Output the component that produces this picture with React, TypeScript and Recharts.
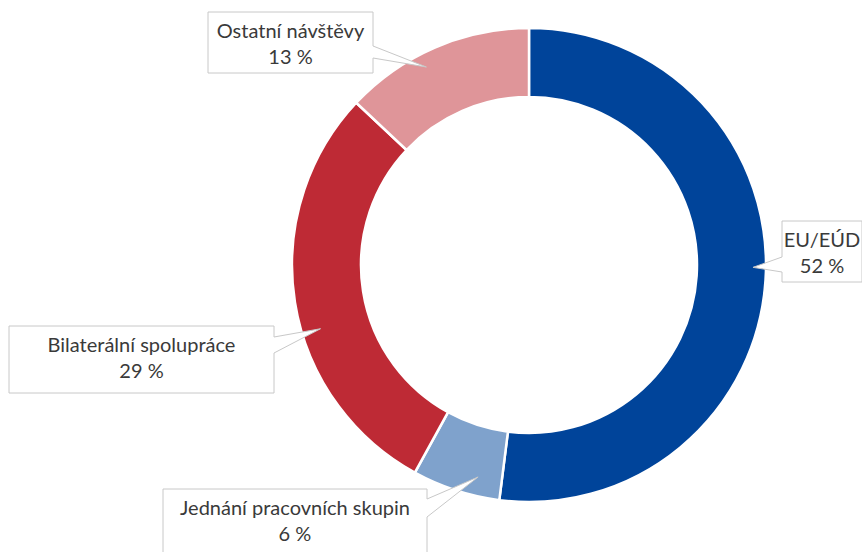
import { PieChart, Pie, Cell } from 'recharts';

const categories = ['EU/EÚD', 'Jednání pracovních skupin', 'Bilaterální spolupráce', 'Ostatní návštěvy'];
const shares = [52, 6, 29, 13];
const colors = ['#00449a', '#7fa2cc', '#be2a35', '#df9599'];

const data = categories.map((name, i) => ({ name, value: shares[i] }));

// callout boxes: box rect, side the pointer leaves from, pointer base and angle tweak of the tip
const callouts = [
  { x: 782, y: 221, w: 80, h: 61, side: 'left', b1: 257, b2: 272, tipR: 224, tipAdj: 3 },
  { x: 163, y: 489, w: 264, h: 72, side: 'right', b1: 499, b2: 517, tipR: 218, tipAdj: 4.5 },
  { x: 9, y: 326, w: 265, h: 67, side: 'right', b1: 337, b2: 353, tipR: 218, tipAdj: 8 },
  { x: 208, y: 12, w: 165, h: 61, side: 'right', b1: 46, b2: 58, tipR: 223, tipAdj: 4 },
];

const RAD = Math.PI / 180;
const FONT = "Lato, 'Open Sans', sans-serif";

function Callout(props: any) {
  const { cx, cy, midAngle, index, name, value } = props;
  const c = callouts[index];
  const a = (midAngle + c.tipAdj) * RAD;
  const tx = cx + c.tipR * Math.cos(a);
  const ty = cy - c.tipR * Math.sin(a);
  const { x, y, w, h } = c;
  let d: string;
  if (c.side === 'right') {
    d = `M${x},${y} L${x + w},${y} L${x + w},${c.b1} L${tx},${ty} L${x + w},${c.b2} L${x + w},${y + h} L${x},${y + h} Z`;
  } else {
    d = `M${x},${y} L${x + w},${y} L${x + w},${y + h} L${x},${y + h} L${x},${c.b2} L${tx},${ty} L${x},${c.b1} Z`;
  }
  const mx = x + w / 2;
  return (
    <g>
      <path d={d} fill="#ffffff" stroke="#c8c8c8" strokeWidth={1} />
      <text x={mx} y={y + 26} textAnchor="middle" fill="#3a3a3a" fontSize={20} fontFamily={FONT}>
        {name}
      </text>
      <text x={mx} y={y + 52} textAnchor="middle" fill="#3a3a3a" fontSize={20} fontFamily={FONT}>
        {value} %
      </text>
    </g>
  );
}

export default function App() {
  return (
    <div style={{ position: 'absolute', left: 0, top: 0, width: 862, height: 552, background: '#ffffff' }}>
      <PieChart width={862} height={552} margin={{ top: 0, right: 0, bottom: 0, left: 0 }}>
        <Pie
          data={data}
          dataKey="value"
          nameKey="name"
          cx={529}
          cy={265}
          innerRadius={168}
          outerRadius={237}
          startAngle={90}
          endAngle={-270}
          stroke="#ffffff"
          strokeWidth={2.5}
          label={Callout}
          labelLine={false}
          isAnimationActive={false}
        >
          {data.map((d, i) => (
            <Cell key={d.name} fill={colors[i]} />
          ))}
        </Pie>
      </PieChart>
    </div>
  );
}
